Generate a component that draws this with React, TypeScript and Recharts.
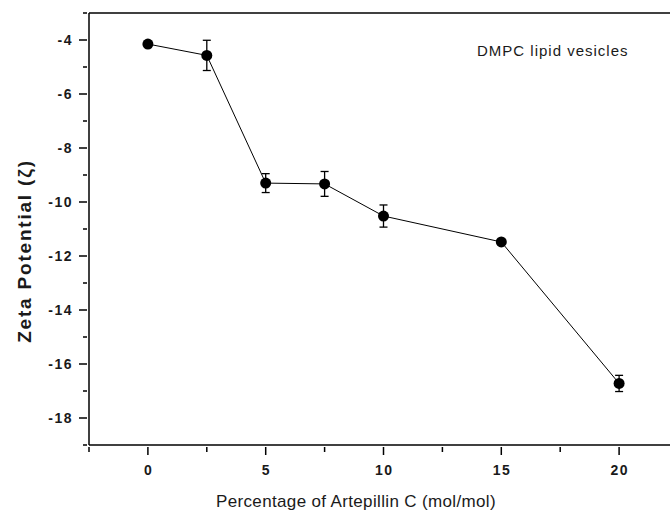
import React from "react";
import { LineChart, Line, XAxis, YAxis, ErrorBar, ReferenceLine } from "recharts";

const concentrations = [0, 2.5, 5, 7.5, 10, 15, 20];
const zeta = [-4.15, -4.57, -9.3, -9.33, -10.52, -11.48, -16.72];
const zetaErr = [0.08, 0.56, 0.35, 0.46, 0.41, 0.08, 0.3];

const xTicks = [-2.5, 0, 2.5, 5, 7.5, 10, 12.5, 15, 17.5, 20, 22.5];
const xLabels = [0, 5, 10, 15, 20];
const yTicks = [-19, -18, -17, -16, -15, -14, -13, -12, -11, -10, -9, -8, -7, -6, -5, -4, -3];
const yLabels = [-4, -6, -8, -10, -12, -14, -16, -18];

const data = concentrations.map((c, i) => ({ x: c, y: zeta[i], err: zetaErr[i] }));

const font = "'Liberation Sans', Arial, sans-serif";
const ink = "#1a1a1a";

function XTick(props: any) {
  const { x, y, payload } = props;
  const major = xLabels.includes(payload.value);
  return (
    <g>
      <line x1={x} x2={x} y1={y} y2={y + (major ? 8 : 5)} stroke="#000" strokeWidth={1.5} />
      {major && (
        <text x={x + 0.75} y={y + 28} textAnchor="middle" fontSize={14} fontWeight="bold" letterSpacing={1.5} fill={ink} fontFamily={font}>
          {payload.value}
        </text>
      )}
    </g>
  );
}

function YTick(props: any) {
  const { x, y, payload } = props;
  const major = yLabels.includes(payload.value);
  return (
    <g>
      <line x1={x} x2={x - (major ? 8 : 4)} y1={y} y2={y} stroke="#000" strokeWidth={1.5} />
      {major && (
        <text x={x - 14} y={y + 5} textAnchor="end" fontSize={14} fontWeight="bold" letterSpacing={1.5} fill={ink} fontFamily={font}>
          {payload.value}
        </text>
      )}
    </g>
  );
}

export default function App() {
  return (
    <div
      style={{
        position: "fixed", left: 0, top: 0, width: 670, height: 512,
        overflow: "hidden", background: "#fff", fontFamily: font,
      }}
    >
      <LineChart width={680} height={512} data={data} margin={{ top: 13, right: 2, bottom: 0, left: 0 }}>
        <XAxis
          dataKey="x" type="number" domain={[-2.5, 22.5]} ticks={xTicks} interval={0}
          height={67} tickSize={0} tickLine={false} tick={(p: any) => <XTick {...p} />}
          axisLine={{ stroke: "#000", strokeWidth: 1.5 }}
        />
        <YAxis
          type="number" domain={[-19, -3]} ticks={yTicks} interval={0}
          width={89} tickSize={0} tickLine={false} tick={(p: any) => <YTick {...p} />}
          axisLine={{ stroke: "#000", strokeWidth: 1.5 }}
        />
        <ReferenceLine y={-3} stroke="#000" strokeWidth={1.5} />
        <Line
          dataKey="y" stroke="#000" strokeWidth={1} isAnimationActive={false}
          dot={{ r: 5.5, fill: "#000", stroke: "#000", strokeWidth: 0 }} activeDot={false}
        >
          <ErrorBar dataKey="err" direction="y" width={4} stroke="#000" strokeWidth={1.3} isAnimationActive={false} />
        </Line>
      </LineChart>
      <div
        style={{
          position: "absolute", left: 25, top: 251, transform: "translate(-50%, -50%) rotate(-90deg)",
          whiteSpace: "nowrap", fontSize: 19, fontWeight: "bold", letterSpacing: 1.8, color: ink,
        }}
      >
        Zeta Potential (ζ)
      </div>
      <div
        style={{
          position: "absolute", left: 356, top: 502, transform: "translate(-50%, -50%)",
          whiteSpace: "nowrap", fontSize: 17, letterSpacing: 0.35, color: ink,
        }}
      >
        Percentage of Artepillin C (mol/mol)
      </div>
      <div
        style={{
          position: "absolute", left: 477, top: 50, transform: "translateY(-50%)",
          whiteSpace: "nowrap", fontSize: 15, letterSpacing: 1, color: ink,
        }}
      >
        DMPC lipid vesicles
      </div>
    </div>
  );
}
